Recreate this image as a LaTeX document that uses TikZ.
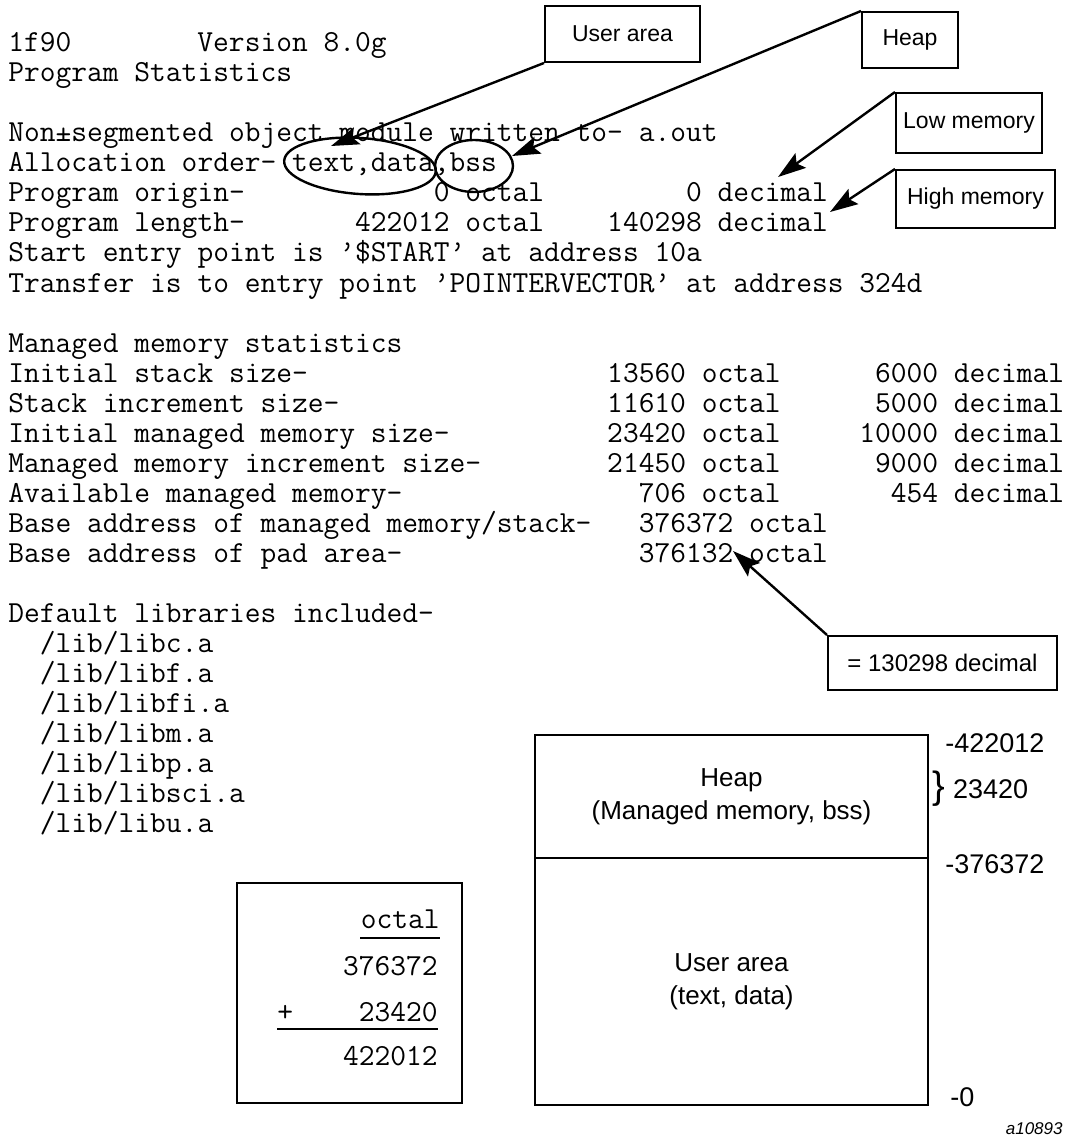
\documentclass[tikz,border=0pt]{standalone}
\usepackage{fontspec}
\setmainfont{Liberation Sans}
\usetikzlibrary{arrows.meta,shapes.geometric}
\newcommand\sk[1]{\hspace*{#1\fontcharwd\font`0}}

\begin{document}
\begin{tikzpicture}[x=0.5pt,y=-0.5pt,
  listing/.style={anchor=base west,inner sep=0pt,font=\ttfamily\fontsize{15.3}{17}\selectfont},
  callout/.style={draw,line width=1pt,inner sep=0pt,font=\fontsize{11.5}{13}\selectfont},
  pointer/.style={line width=1.2pt,-{Stealth[length=14pt,width=9pt,inset=2.5pt]}},
  ring/.style={draw,ellipse,line width=1.2pt,inner sep=0pt},
  block/.style={draw,line width=1pt,minimum width=196.5pt,align=center,font=\fontsize{13}{16.5}\selectfont},
  addr/.style={anchor=west,inner sep=0pt,font=\fontsize{13.5}{16}\selectfont}]
\path[use as bounding box] (0,0) rectangle (1072,1139);

% program listing
\node[listing] (ver) at (8,52) {1f90\sk{8}Version 8.0g};
\node[listing] (stats) at (8,82) {Program Statistics};
\node[listing] (nonseg) at (8,142) {Non±segmented object module written to- a.out};
\node[listing] (alloc) at (8,172) {Allocation order- text,data,bss};
\node[listing] (origin) at (8,202) {Program origin-\sk{12}0 octal\sk{9}0 decimal};
\node[listing] (length) at (8,232) {Program length-\sk{7}422012 octal\sk{4}140298 decimal};
\node[listing] (start) at (8,262) {Start entry point is ’\$START’ at address 10a};
\node[listing] (transfer) at (8,292) {Transfer is to entry point ’POINTERVECTOR’ at address 324d};
\node[listing] (managed) at (8,352) {Managed memory statistics};
\node[listing] (stackini) at (8,382) {Initial stack size-\sk{19}13560 octal\sk{6}6000 decimal};
\node[listing] (stackinc) at (8,412) {Stack increment size-\sk{17}11610 octal\sk{6}5000 decimal};
\node[listing] (memini) at (8,442) {Initial managed memory size-\sk{10}23420 octal\sk{5}10000 decimal};
\node[listing] (meminc) at (8,472) {Managed memory increment size-\sk{8}21450 octal\sk{6}9000 decimal};
\node[listing] (avail) at (8,502) {Available managed memory-\sk{15}706 octal\sk{7}454 decimal};
\node[listing] (basemem) at (8,532) {Base address of managed memory/stack-\sk{3}376372 octal};
\node[listing] (basepad) at (8,562) {Base address of pad area-\sk{15}376132 octal};
\node[listing] (libs) at (8,622) {Default libraries included-};
\node[listing] (libc) at (8,652) {\sk{2}/lib/libc.a};
\node[listing] (libf) at (8,682) {\sk{2}/lib/libf.a};
\node[listing] (libfi) at (8,712) {\sk{2}/lib/libfi.a};
\node[listing] (libm) at (8,742) {\sk{2}/lib/libm.a};
\node[listing] (libp) at (8,772) {\sk{2}/lib/libp.a};
\node[listing] (libsci) at (8,802) {\sk{2}/lib/libsci.a};
\node[listing] (libu) at (8,832) {\sk{2}/lib/libu.a};

% rings round the allocation order
\node[ring,minimum width=76pt,minimum height=28pt,rotate=-4] (ringdata) at (360,166) {};
\node[ring,minimum width=39pt,minimum height=26pt] (ringbss) at (474,166) {};

% callouts
\node[callout,minimum width=77.5pt,minimum height=28pt] (userbox) at (622.5,34) {User area};
\node[callout,minimum width=48pt,minimum height=28pt] (heapbox) at (910,40) {Heap};
\node[callout,minimum width=73pt,minimum height=30pt] (lowbox) at (969,123) {Low memory};
\node[callout,minimum width=79.5pt,minimum height=29pt] (highbox) at (975.5,199) {High memory};
\node[callout,minimum width=114.5pt,minimum height=27pt,font=\fontsize{12}{14}\selectfont] (decbox) at (942.5,663) {= 130298 decimal};

\coordinate (usertip) at (331,146);
\coordinate (heaptip) at (512,156);
\coordinate (lowtip) at (778,177);
\coordinate (hightip) at (830,212);
\coordinate (padtip) at (733,551);
\draw[pointer] (userbox.south west) -- (usertip);
\draw[pointer] (heapbox.north west) -- (heaptip);
\draw[pointer] (lowbox.north west) -- (lowtip);
\draw[pointer] (highbox.north west) -- (hightip);
\draw[pointer] (decbox.north west) -- (padtip);

% memory map
\node[block,minimum height=61.5pt] (heapblk) at (731.5,796.5) {Heap\\(Managed memory, bss)};
\node[block,minimum height=123.5pt] (userblk) at (731.5,981.5) {User area\\(text, data)};
\node[addr] (top) at (945,743) {-422012};
\node[addr] (size) at (932,789) {{\fontsize{19}{19}\selectfont\}}\hspace{4pt}23420};
\node[addr] (mid) at (945,864) {-376372};
\node[addr] (low) at (950,1097) {-0};
\node[anchor=east,inner sep=0pt,font=\itshape\fontsize{8.5}{10}\selectfont] (fig) at (1063,1129) {a10893};

% octal sum
\node[draw,line width=1pt,minimum width=112.5pt,minimum height=110pt] (sumbox) at (349.5,993) {};
\node[listing,anchor=base east] (octhead) at (440,928) {octal};
\node[listing,anchor=base east] (augend) at (438,975) {376372};
\node[listing] (plus) at (277,1021) {+};
\node[listing,anchor=base east] (addend) at (438,1021) {23420};
\node[listing,anchor=base east] (total) at (438,1065) {422012};
\draw[line width=1pt] ([yshift=-5pt]octhead.base west) -- ([yshift=-5pt]octhead.base east);
\draw[line width=1pt] ([yshift=-4pt]plus.base west) -- ([yshift=-4pt]plus.base west -| addend.base east);
\end{tikzpicture}
\end{document}
